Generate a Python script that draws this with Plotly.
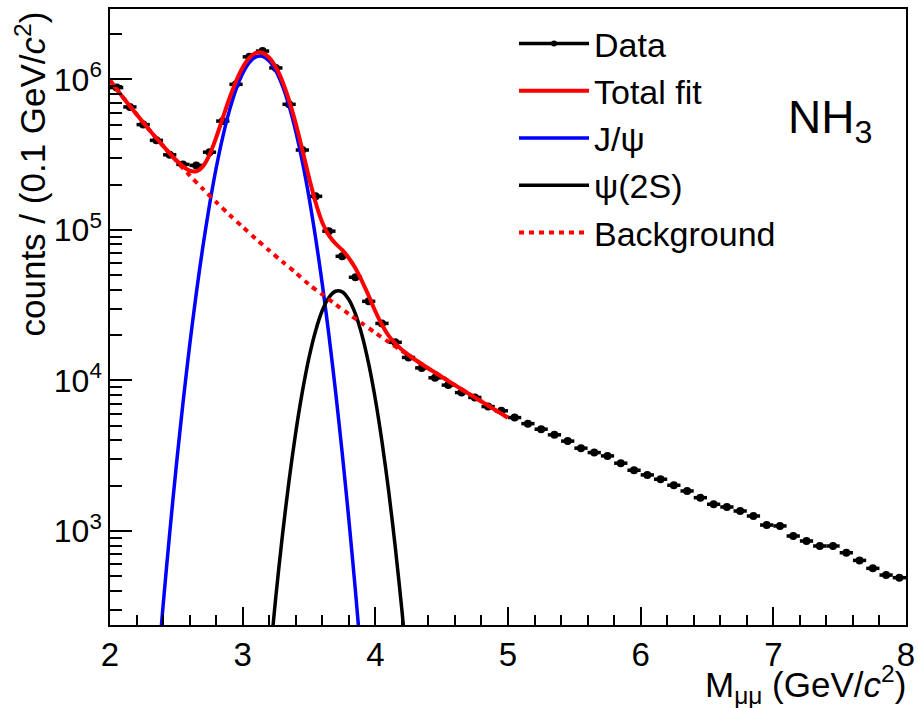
import plotly.graph_objects as go

FONT = "Liberation Sans"

# ---------------- data (bin centres, counts per 0.1 GeV/c^2) ----------------
mass_bins = [2.05, 2.15, 2.25, 2.35, 2.45, 2.55, 2.65, 2.75, 2.85, 2.95,
             3.05, 3.15, 3.25, 3.35, 3.45, 3.55, 3.65, 3.75, 3.85, 3.95,
             4.05, 4.15, 4.25, 4.35, 4.45, 4.55, 4.65, 4.75, 4.85, 4.95,
             5.05, 5.15, 5.25, 5.35, 5.45, 5.55, 5.65, 5.75, 5.85, 5.95,
             6.05, 6.15, 6.25, 6.35, 6.45, 6.55, 6.65, 6.75, 6.85, 6.95,
             7.05, 7.15, 7.25, 7.35, 7.45, 7.55, 7.65, 7.75, 7.85, 7.95]
counts = [881000, 655000, 500000, 393000, 315000, 272000, 268000, 328000, 528000, 926000,
          1410000, 1540000, 1190000, 682000, 339000, 167000, 98000, 66700, 48400, 33500,
          23900, 17900, 14200, 12100, 10400, 9300, 8300, 7700, 6700, 6280,
          5660, 5160, 4740, 4350, 3950, 3545, 3315, 3150, 2818, 2530,
          2355, 2205, 2010, 1842, 1663, 1503, 1442, 1356, 1256, 1094,
          1079, 925, 857, 794, 794, 716, 637, 564, 509, 489]
bin_half_width = 0.05

# ---------------- fit components ----------------
bkg_x = [2.0, 2.1, 2.2, 2.3, 2.4, 2.5, 2.6, 2.7, 2.8, 2.9, 3.0, 3.1, 3.2, 3.3, 3.4,
         3.5, 3.6, 3.7, 3.8, 3.9, 4.0, 4.1, 4.2, 4.3, 4.4, 4.5, 4.6, 4.7, 4.8, 4.9, 5.0]
bkg_y = [984000, 755000, 585000, 457000, 361000, 287000, 230000, 187000, 153000, 126000,
         104500, 87100, 72900, 61400, 51900, 43300, 37200, 32000, 27600, 23900,
         20700, 18000, 15700, 13700, 12000, 10600, 9300, 8200, 7240, 6390, 5650]

jpsi_x = [2.35, 2.40, 2.45, 2.50, 2.55, 2.60, 2.65, 2.70, 2.75, 2.80, 2.85, 2.90, 2.95,
          3.00, 3.05, 3.10, 3.15, 3.20, 3.25, 3.30, 3.35, 3.40, 3.45, 3.50, 3.55, 3.60,
          3.65, 3.70, 3.75, 3.80, 3.85, 3.90]
jpsi_y = [96.6, 318, 968, 2720, 7060, 16980, 37670, 77270, 146200, 256400, 415000, 619400,
          857000, 1094000, 1291000, 1409000, 1419000, 1321000, 1138000, 905700, 665300,
          451900, 283800, 164800, 88310, 43750, 20040, 8470, 3311, 1197, 400, 123]

psi2s_x = [3.20, 3.25, 3.30, 3.35, 3.40, 3.45, 3.50, 3.55, 3.60, 3.65, 3.70, 3.75,
           3.80, 3.85, 3.90, 3.95, 4.00, 4.05, 4.10, 4.15, 4.20, 4.25]
psi2s_y = [128, 366, 940, 2173, 4508, 8414, 14160, 21380, 29110, 35560, 39080, 38730,
           34430, 27610, 19860, 12850, 7499, 3926, 1854, 785, 299, 103]

total_x = [2.0, 2.1, 2.2, 2.3, 2.4, 2.45, 2.5, 2.55, 2.6, 2.65, 2.7, 2.75, 2.8, 2.85,
           2.9, 2.95, 3.0, 3.05, 3.1, 3.15, 3.2, 3.25, 3.3, 3.35, 3.4, 3.45, 3.5, 3.55,
           3.6, 3.65, 3.7, 3.75, 3.8, 3.85, 3.9, 3.95, 4.0, 4.05, 4.1, 4.15, 4.2, 4.25,
           4.3, 4.4, 4.5, 4.6, 4.7, 4.8, 4.9, 5.0]
total_y = [984000, 755000, 585000, 457000, 361300, 322400, 289800, 264100, 247100, 244700,
           263900, 314900, 409200, 553700, 745300, 971600, 1198500, 1386000, 1496000,
           1499000, 1394000, 1205000, 968000, 723900, 508300, 339500, 222300, 152000,
           112000, 92000, 81000, 73500, 65000, 55500, 45500, 36500, 28800, 23400, 19840,
           17580, 15970, 14760, 13710, 12020, 10570, 9300, 8200, 7240, 6390, 5650]

# tick positions / labels on the log y axis
y_major_ticks = [1000, 10000, 100000, 1000000]
y_major_labels = ["10<sup>3</sup>", "10<sup>4</sup>", "10<sup>5</sup>", "10<sup>6</sup>"]
y_minor_ticks = [300, 400, 500, 600, 700, 800, 900,
                 2000, 3000, 4000, 5000, 6000, 7000, 8000, 9000,
                 20000, 30000, 40000, 50000, 60000, 70000, 80000, 90000,
                 200000, 300000, 400000, 500000, 600000, 700000, 800000, 900000,
                 2000000]

fig = go.Figure()

# data points with bin-width horizontal bars
fig.add_trace(go.Scatter(
    x=mass_bins, y=counts, mode="markers", name="Data", showlegend=False,
    marker=dict(color="black", size=8),
    error_x=dict(type="constant", value=bin_half_width, width=0, thickness=3.5, color="black"),
))
# legend entry for data (line + dot)
fig.add_trace(go.Scatter(
    x=[None], y=[None], mode="lines+markers", name="Data", legendrank=1,
    line=dict(color="black", width=3.5), marker=dict(color="black", size=6),
))
fig.add_trace(go.Scatter(
    x=jpsi_x, y=jpsi_y, mode="lines", name="J/ψ", legendrank=3,
    line=dict(color="#0000ff", width=3.5, shape="spline", smoothing=0.8),
))
fig.add_trace(go.Scatter(
    x=psi2s_x, y=psi2s_y, mode="lines", name="ψ(2S)", legendrank=4,
    line=dict(color="black", width=3.5, shape="spline", smoothing=0.8),
))
fig.add_trace(go.Scatter(
    x=bkg_x, y=bkg_y, mode="lines", name="Background", legendrank=5,
    line=dict(color="#ff0000", width=4, dash="5px,5px", shape="spline", smoothing=0.8),
))
fig.add_trace(go.Scatter(
    x=total_x, y=total_y, mode="lines", name="Total fit", legendrank=2,
    line=dict(color="#ff0000", width=4, shape="spline", smoothing=0.8),
))

W, H = 918, 708
L, R, T, B = 110, 12, 9, 83
pw, ph = W - L - R, H - B - T

fig.update_layout(
    width=W, height=H,
    margin=dict(l=L, r=R, t=T, b=B, pad=0, autoexpand=False),
    paper_bgcolor="white", plot_bgcolor="white",
    font=dict(family=FONT, size=33, color="black"),
    showlegend=True,
    legend=dict(
        x=(514 - L) / pw, y=(H - B - 15) / ph,
        xanchor="left", yanchor="top",
        font=dict(family=FONT, size=34, color="black"),
        bgcolor="rgba(0,0,0,0)", borderwidth=0, itemwidth=70,
        traceorder="normal",
    ),
    xaxis=dict(
        range=[2, 8], dtick=1, tick0=0, ticks="inside", ticklen=18, tickwidth=1.5,
        tickcolor="black", showgrid=False, zeroline=False, automargin=False,
        showline=True, mirror=True, linecolor="black", linewidth=1.5,
        tickfont=dict(family=FONT, size=33),
        minor=dict(dtick=0.2, ticks="inside", ticklen=10, tickwidth=1.5,
                   tickcolor="black", showgrid=False),
    ),
    yaxis=dict(
        type="log", range=[2.375, 6.467], tickmode="array",
        tickvals=y_major_ticks, ticktext=y_major_labels,
        ticks="inside", ticklen=22, tickwidth=1.5, tickcolor="black",
        showgrid=False, zeroline=False, automargin=False,
        showline=True, mirror=True, linecolor="black", linewidth=1.5,
        tickfont=dict(family=FONT, size=32),
        minor=dict(tickmode="array", tickvals=y_minor_ticks, ticks="inside", ticklen=12,
                   tickwidth=1.5, tickcolor="black", showgrid=False),
    ),
)

fig.add_annotation(
    text="M<sub>μμ</sub> (GeV/<i>c</i><sup>2</sup>)", xref="paper", yref="paper",
    x=(908 - L) / pw, y=(H - B - 684) / ph, xanchor="right", yanchor="middle",
    showarrow=False, font=dict(family=FONT, size=35),
)
fig.add_annotation(
    text="counts / (0.1 GeV/<i>c</i><sup>2</sup>)", xref="paper", yref="paper",
    x=(30 - L) / pw, y=(H - B - 10) / ph, xanchor="center", yanchor="top",
    textangle=-90, showarrow=False, font=dict(family=FONT, size=35),
)
fig.add_annotation(
    text="NH<sub>3</sub>", xref="paper", yref="paper",
    x=(830 - L) / pw, y=(H - B - 120) / ph, xanchor="center", yanchor="middle",
    showarrow=False, font=dict(family=FONT, size=46),
)

fig.write_html("out.html")
